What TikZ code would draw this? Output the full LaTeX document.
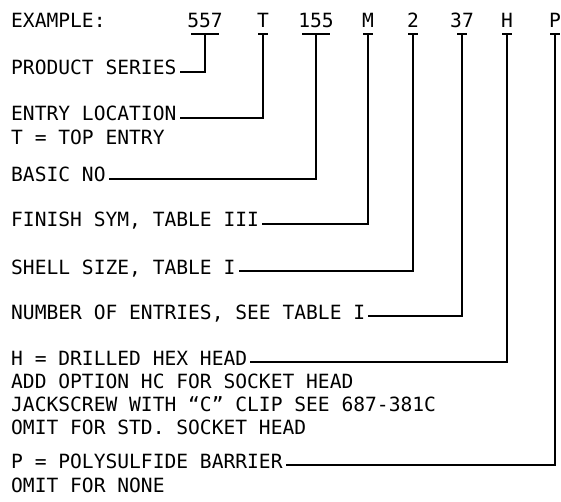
\documentclass[tikz,border=0pt]{standalone}
\usepackage{fontspec}
\setmainfont{DejaVu Sans Mono}
\usetikzlibrary{positioning}

\begin{document}
\begin{tikzpicture}[
 x=1pt,y=-1pt,
 txt/.style={font=\fontsize{19.6}{22}\selectfont,inner xsep=3pt,inner ysep=0pt,anchor=base west},
 code/.style={font=\fontsize{19.6}{22}\selectfont,inner sep=0pt,anchor=base},
 lead/.style={line width=2pt}
]
\useasboundingbox (0,0) rectangle (561,502);
% part number
\node[txt] (ex) at (8,28) {EXAMPLE:};
\node[code] (c557) at (205,28) {557};
\node[code] (cT) at (263,28) {T};
\node[code] (c155) at (316,28) {155};
\node[code] (cM) at (368,28) {M};
\node[code] (c2) at (413,28) {2};
\node[code] (c37) at (462,28) {37};
\node[code] (cH) at (507,28) {H};
\node[code] (cP) at (555,28) {P};
\foreach \c/\w in {557/14,T/5,155/14,M/5,2/5,37/5,H/5,P/5}
  \draw[lead] ([xshift=-\w pt,yshift=-6pt]c\c.base) -- ([xshift=\w pt,yshift=-6pt]c\c.base);
% labels
\node[txt] (lprod) at (8,75) {PRODUCT SERIES};
\node[txt] (lentry) at (8,121) {ENTRY LOCATION};
\node[txt,below=24pt of lentry.base west,anchor=base west] (lentry2) {T = TOP ENTRY};
\node[txt] (lbasic) at (8,182) {BASIC NO\ };
\node[txt] (lfin) at (8,227) {FINISH SYM, TABLE III};
\node[txt] (lshell) at (8,274) {SHELL SIZE, TABLE I};
\node[txt] (lnum) at (8,319) {NUMBER OF ENTRIES, SEE TABLE I};
\node[txt] (lhex) at (8,365) {H = DRILLED HEX HEAD\ };
\node[txt,below=23pt of lhex.base west,anchor=base west] (lhex2) {ADD OPTION HC FOR SOCKET HEAD};
\node[txt,below=23pt of lhex2.base west,anchor=base west] (lhex3) {JACKSCREW WITH “C” CLIP SEE 687-381C};
\node[txt,below=23pt of lhex3.base west,anchor=base west] (lhex4) {OMIT FOR STD. SOCKET HEAD};
\node[txt] (lpoly) at (8,468) {P = POLYSULFIDE BARRIER};
\node[txt,below=24pt of lpoly.base west,anchor=base west] (lpoly2) {OMIT FOR NONE};
% leaders
\draw[lead] ([yshift=-6pt]c557.base) |- ([yshift=3pt]lprod.base east);
\draw[lead] ([yshift=-6pt]cT.base) |- ([yshift=3pt]lentry.base east);
\draw[lead] ([yshift=-6pt]c155.base) |- ([yshift=3pt]lbasic.base east);
\draw[lead] ([yshift=-6pt]cM.base) |- ([yshift=3pt]lfin.base east);
\draw[lead] ([yshift=-6pt]c2.base) |- ([yshift=3pt]lshell.base east);
\draw[lead] ([yshift=-6pt]c37.base) |- ([yshift=3pt]lnum.base east);
\draw[lead] ([yshift=-6pt]cH.base) |- ([yshift=3pt]lhex.base east);
\draw[lead] ([yshift=-6pt]cP.base) |- ([yshift=3pt]lpoly.base east);
\end{tikzpicture}
\end{document}
